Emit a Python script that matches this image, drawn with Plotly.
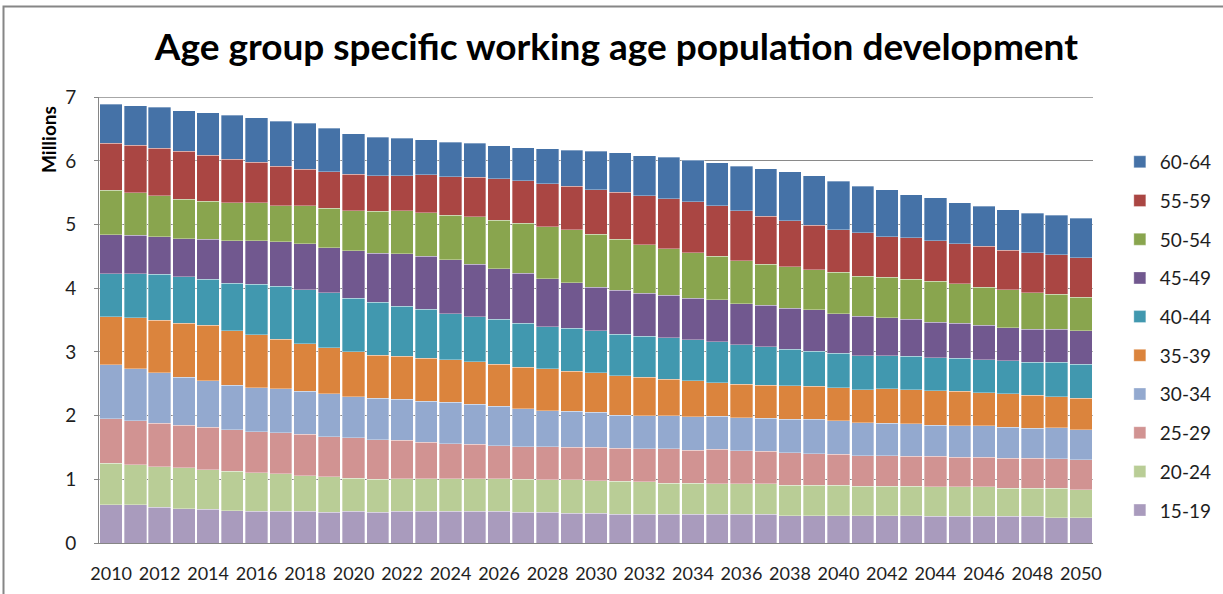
import plotly.graph_objects as go

years = list(range(2010, 2051))
age_groups = ["15-19", "20-24", "25-29", "30-34", "35-39",
              "40-44", "45-49", "50-54", "55-59", "60-64"]

# Population in millions per age group, 2010..2050
a15_19 = [0.60, 0.60, 0.56, 0.54, 0.53, 0.51, 0.50, 0.50, 0.50, 0.48,
          0.50, 0.48, 0.50, 0.50, 0.50, 0.50, 0.50, 0.48, 0.48, 0.47,
          0.47, 0.45, 0.45, 0.45, 0.45, 0.45, 0.45, 0.45, 0.43, 0.43,
          0.43, 0.43, 0.43, 0.43, 0.42, 0.42, 0.42, 0.42, 0.42, 0.40,
          0.40]
a20_24 = [0.65, 0.63, 0.64, 0.64, 0.62, 0.62, 0.60, 0.59, 0.56, 0.56,
          0.52, 0.52, 0.51, 0.51, 0.51, 0.51, 0.51, 0.52, 0.51, 0.52,
          0.51, 0.52, 0.51, 0.49, 0.49, 0.48, 0.48, 0.48, 0.48, 0.48,
          0.48, 0.46, 0.46, 0.46, 0.46, 0.46, 0.46, 0.44, 0.44, 0.46,
          0.44]
a25_29 = [0.70, 0.69, 0.68, 0.67, 0.67, 0.65, 0.65, 0.64, 0.65, 0.63,
          0.63, 0.62, 0.60, 0.57, 0.55, 0.54, 0.52, 0.51, 0.52, 0.51,
          0.52, 0.52, 0.52, 0.54, 0.52, 0.54, 0.52, 0.51, 0.51, 0.49,
          0.48, 0.48, 0.48, 0.47, 0.48, 0.47, 0.47, 0.47, 0.47, 0.46,
          0.47]
a30_34 = [0.85, 0.82, 0.79, 0.75, 0.73, 0.70, 0.69, 0.69, 0.67, 0.67,
          0.65, 0.65, 0.65, 0.65, 0.65, 0.63, 0.62, 0.60, 0.57, 0.57,
          0.55, 0.52, 0.52, 0.52, 0.52, 0.52, 0.52, 0.52, 0.52, 0.54,
          0.53, 0.52, 0.51, 0.51, 0.49, 0.49, 0.49, 0.49, 0.47, 0.49,
          0.47]
a35_39 = [0.75, 0.80, 0.83, 0.85, 0.87, 0.85, 0.83, 0.78, 0.75, 0.73,
          0.70, 0.68, 0.67, 0.67, 0.67, 0.67, 0.66, 0.65, 0.66, 0.63,
          0.62, 0.62, 0.60, 0.57, 0.57, 0.53, 0.52, 0.52, 0.53, 0.52,
          0.52, 0.52, 0.54, 0.54, 0.54, 0.54, 0.52, 0.52, 0.52, 0.49,
          0.49]
a40_44 = [0.68, 0.69, 0.72, 0.73, 0.72, 0.75, 0.79, 0.83, 0.85, 0.86,
          0.84, 0.83, 0.79, 0.77, 0.72, 0.70, 0.70, 0.69, 0.66, 0.67,
          0.66, 0.65, 0.65, 0.65, 0.64, 0.64, 0.62, 0.60, 0.57, 0.55,
          0.54, 0.53, 0.52, 0.52, 0.52, 0.52, 0.52, 0.52, 0.52, 0.54,
          0.54]
a45_49 = [0.61, 0.60, 0.59, 0.60, 0.63, 0.67, 0.69, 0.70, 0.72, 0.71,
          0.75, 0.77, 0.82, 0.83, 0.85, 0.83, 0.80, 0.79, 0.75, 0.72,
          0.69, 0.69, 0.67, 0.67, 0.65, 0.66, 0.65, 0.65, 0.65, 0.65,
          0.62, 0.62, 0.60, 0.58, 0.56, 0.55, 0.54, 0.52, 0.52, 0.52,
          0.52]
a50_54 = [0.70, 0.67, 0.64, 0.62, 0.60, 0.59, 0.59, 0.57, 0.60, 0.62,
          0.63, 0.66, 0.68, 0.69, 0.70, 0.74, 0.76, 0.78, 0.82, 0.83,
          0.83, 0.80, 0.76, 0.73, 0.72, 0.68, 0.67, 0.65, 0.65, 0.63,
          0.65, 0.63, 0.63, 0.63, 0.64, 0.62, 0.60, 0.60, 0.57, 0.55,
          0.53]
a55_59 = [0.74, 0.75, 0.75, 0.75, 0.72, 0.69, 0.64, 0.62, 0.57, 0.57,
          0.57, 0.56, 0.55, 0.59, 0.60, 0.62, 0.65, 0.67, 0.67, 0.68,
          0.70, 0.74, 0.77, 0.79, 0.80, 0.80, 0.79, 0.75, 0.72, 0.70,
          0.67, 0.68, 0.64, 0.65, 0.64, 0.63, 0.64, 0.62, 0.63, 0.62,
          0.62]
a60_64 = [0.61, 0.62, 0.64, 0.64, 0.67, 0.69, 0.70, 0.70, 0.72, 0.68,
          0.64, 0.60, 0.59, 0.55, 0.54, 0.54, 0.52, 0.52, 0.55, 0.57,
          0.60, 0.62, 0.63, 0.65, 0.65, 0.67, 0.70, 0.75, 0.77, 0.78,
          0.76, 0.73, 0.74, 0.68, 0.67, 0.64, 0.63, 0.63, 0.62, 0.62,
          0.62]

series = [a15_19, a20_24, a25_29, a30_34, a35_39,
          a40_44, a45_49, a50_54, a55_59, a60_64]
colors = ["#A99BBD", "#B9CD96", "#D19392", "#93A9CF", "#DB843D",
          "#4198AF", "#71588F", "#89A54E", "#AA4643", "#4572A7"]

y_ticks = [0, 1, 2, 3, 4, 5, 6, 7]
x_ticks = list(range(2010, 2051, 2))
y_max = 7

FONT = "Lato"
TXT = "#1e1e1e"
GRID = "#8a8a8a"

fig = go.Figure()
n = len(age_groups)
for i, (name, vals, col) in enumerate(zip(age_groups, series, colors)):
    fig.add_trace(go.Bar(
        x=years, y=vals, name=name, legendgroup=name, legendrank=n - i,
        marker=dict(color=col, line=dict(color="rgba(255,255,255,0.55)", width=0.6)),
    ))

fig.update_layout(
    width=1223, height=594,
    barmode="stack", bargap=0.08,
    paper_bgcolor="white", plot_bgcolor="white",
    margin=dict(l=99, r=130, t=97, b=51, autoexpand=False),
    title=dict(text="<b>Age group specific working age population development</b>",
               x=0.504, xanchor="center", y=1 - 47 / 594, yanchor="middle",
               font=dict(family=FONT, size=37, color="black")),
    font=dict(family=FONT, color=TXT),
    legend=dict(x=1.027, xanchor="left", y=0.897, yanchor="top",
                traceorder="grouped", tracegroupgap=11,
                font=dict(family=FONT, size=19, color=TXT),
                bgcolor="rgba(0,0,0,0)"),
    xaxis=dict(range=[2009.5, 2050.5], tickmode="array", tickvals=x_ticks,
               ticktext=[str(v) for v in x_ticks], showgrid=False,
               showline=True, linecolor="#868686", linewidth=1,
               ticks="", ticklabelstandoff=14,
               tickfont=dict(family=FONT, size=18, color=TXT), zeroline=False,
               fixedrange=True),
    yaxis=dict(range=[0, 7.004], tickmode="array", tickvals=y_ticks,
               showgrid=True, gridcolor=GRID, gridwidth=1,
               showline=True, linecolor="#868686", linewidth=1,
               ticks="outside", ticklen=4, tickcolor="#868686",
               ticklabelstandoff=14,
               tickfont=dict(family=FONT, size=19, color=TXT), zeroline=False),
    annotations=[dict(text="<b>Millions</b>", xref="paper", yref="paper",
                      x=(49 - 99) / 994, y=(543 - 140) / 446, textangle=-90,
                      showarrow=False, xanchor="center", yanchor="middle",
                      font=dict(family=FONT, size=19, color="black"))],
    shapes=[dict(type="rect", xref="paper", yref="paper",
                 x0=(3.5 - 99) / 994, x1=1.3, y0=-0.3, y1=(543 - 6.5) / 446,
                 line=dict(color="#868686", width=2), fillcolor="rgba(0,0,0,0)",
                 layer="below"),
            dict(type="line", xref="paper", yref="y", x0=0, x1=1,
                 y0=y_max, y1=y_max, line=dict(color=GRID, width=1),
                 layer="below")],
)

fig.write_html("out.html")
